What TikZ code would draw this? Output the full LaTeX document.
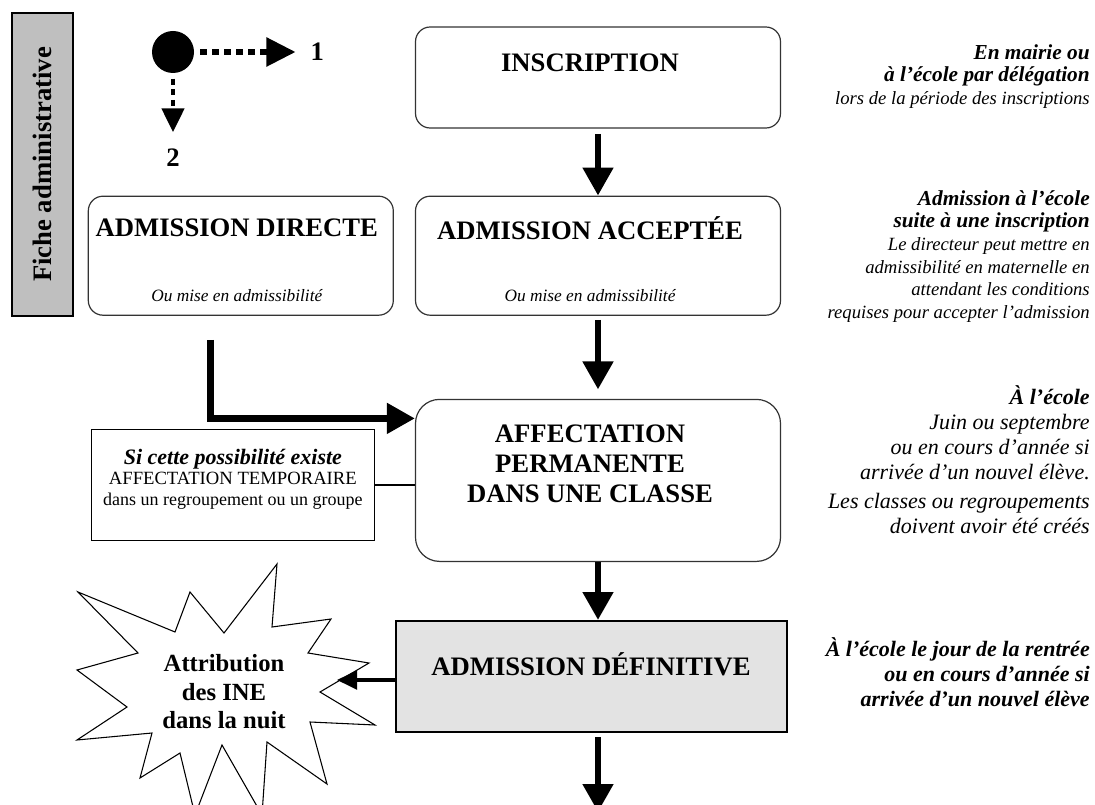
\documentclass[tikz,border=0pt]{standalone}
\usepackage{fontspec}
\setmainfont{Liberation Serif}
\usetikzlibrary{arrows.meta,positioning}

\begin{document}
\begin{tikzpicture}[
  x=0.75pt, y=-0.75pt,
  >={Triangle[length=21pt,width=22pt]},
  box/.style={draw=black!80,line width=0.9pt,rounded corners=11pt,fill=white,minimum width=273.75pt,inner sep=0pt},
  title/.style={font=\bfseries\fontsize{20}{22.5}\selectfont,align=center,inner sep=0pt},
  note/.style={font=\itshape\fontsize{13}{15}\selectfont,inner sep=0pt},
  side/.style={font=\itshape\fontsize{14}{17}\selectfont,align=right,inner sep=0pt,anchor=north east},
  arr/.style={->,line width=5pt},
  legarr/.style={-{Triangle[length=22pt,width=21pt]},line width=4.5pt,dash pattern=on 5pt off 4pt},
  sidearr/.style={-{Triangle[length=15pt,width=14pt]},line width=2.3pt},
  link/.style={line width=1.1pt}
]
\useasboundingbox (0,0) rectangle (1095,805);

% side tab
\node[draw,line width=1.2pt,fill=black!25,rotate=90,minimum width=227.25pt,minimum height=45.75pt,
  font=\bfseries\fontsize{20}{22}\selectfont] (fiche) at (42.5,164.5) {Fiche administrative};

% legend
\node[circle,fill,minimum size=31.5pt,inner sep=0pt] (dot) at (173,52) {};
\node[font=\bfseries\fontsize{20}{22}\selectfont,inner sep=0pt,right=87pt of dot] (one) {1};
\node[font=\bfseries\fontsize{20}{22}\selectfont,inner sep=0pt,below=56.25pt of dot] (two) {2};
\draw[legarr,shorten <=4.5pt,shorten >=11pt] (dot) -- (one);
\draw[legarr,-{Triangle[length=18pt,width=16.5pt]},line width=3.6pt,dash pattern=on 4.5pt off 3.5pt,
  shorten <=4pt,shorten >=12pt] (dot) -- (two);

% main column
\node[box,minimum height=75.75pt,
  label={[title,anchor=base,xshift=-6pt,yshift=-33.75pt]north:INSCRIPTION}] (inscription) at (598,77.5) {};
\node[box,minimum height=89.25pt,below=50.25pt of inscription,
  label={[title,anchor=base,xshift=-6pt,yshift=-33pt]north:ADMISSION ACCEPTÉE},
  label={[note,anchor=base,xshift=-6pt,yshift=11pt]south:Ou mise en admissibilité}] (accepted) {};
\node[box,minimum width=228.75pt,minimum height=89.25pt,left=15.75pt of accepted,
  label={[title,anchor=base,xshift=-3pt,yshift=-30.75pt]north:ADMISSION DIRECTE},
  label={[note,anchor=base,xshift=-3pt,yshift=11pt]south:Ou mise en admissibilité}] (direct) {};
\node[box,rounded corners=18pt,minimum height=121.5pt,below=62.25pt of accepted,
  label={[title,anchor=north,xshift=-6pt,yshift=-19.5pt]north:AFFECTATION\\PERMANENTE\\DANS UNE CLASSE}] (affect) {};
\node[draw,line width=1.5pt,fill=black!11,minimum width=293.25pt,minimum height=83.25pt,inner sep=0pt,
  below=43.5pt of affect,xshift=-5.25pt,
  label={[title,anchor=base,yshift=-41.25pt]north:ADMISSION DÉFINITIVE}] (definitive) {};
\node[draw,line width=0.8pt,minimum width=212.25pt,minimum height=83.25pt,inner sep=0pt,
  left=30pt of affect,yshift=-3.4pt,
  label={[align=center,inner sep=0pt,font=\fontsize{13.5}{15.4}\selectfont,yshift=4.5pt]center:
   {\bfseries\itshape\fontsize{16.5}{15.4}\selectfont Si cette possibilité existe}\\
   {\fontsize{14}{15.4}\selectfont AFFECTATION TEMPORAIRE}\\
   dans un regroupement ou un groupe}] (temp) {};

% burst
\draw[line width=0.8pt,fill=white] (277,564) -- (272,627) -- (331,619) -- (308,653) -- (369,663)
  -- (320,692) -- (375,725) -- (310,722) -- (327,784) -- (267,742) -- (262,815) -- (222,745)
  -- (195,815) -- (180,753) -- (140,778) -- (152,733) -- (77,740) -- (127,707) -- (77,670)
  -- (138,653) -- (78,592) -- (175,632) -- (190,592) -- (224,633) -- cycle;
\node[font=\bfseries\fontsize{18.5}{21.4}\selectfont,align=center,inner sep=0pt] (ine) at (224,692)
  {Attribution\\des INE\\dans la nuit};
\coordinate (burstin) at (337,680);
\coordinate (next) at (598,812);

% connectors
\draw[arr,shorten <=4pt] (inscription) -- (accepted);
\draw[arr,shorten <=3pt,shorten >=7pt] (accepted) -- (affect);
\draw[arr] (affect) -- (affect.south |- definitive.north);
\draw[arr,shorten <=3pt] (next |- definitive.south) -- (next);
\draw[arr] ([xshift=-22.5pt,yshift=-18pt]direct.south) |- ([yshift=46.5pt]affect.west);
\draw[link] (temp) -- (temp -| affect.west);
\draw[sidearr] (definitive.west |- burstin) -- (burstin);

% right notes
\node[side] (mairie) at (1090,44)
  {{\bfseries\fontsize{16}{17}\selectfont En mairie ou}\\
   {\bfseries\fontsize{16}{17}\selectfont à l’école par délégation}\\
   lors de la période des inscriptions};
\node[side] (admnote) at (1090,190)
  {{\bfseries\fontsize{16}{17}\selectfont Admission à l’école}\\
   {\bfseries\fontsize{16}{17}\selectfont suite à une inscription}\\
   Le directeur peut mettre en\\
   admissibilité en maternelle en\\
   attendant les conditions\\
   requises pour accepter l’admission};
\node[side,font=\itshape\fontsize{16.5}{18.75}\selectfont] (ecole) at (1090,385)
  {{\bfseries À l’école}\\
   Juin ou septembre\\
   ou en cours d’année si\\
   arrivée d’un  nouvel élève.\\[3pt]
   Les classes ou regroupements\\
   doivent avoir été créés};
\node[side,font=\bfseries\itshape\fontsize{16.5}{18.75}\selectfont] (rentree) at (1090,637)
  {À l’école le jour de la rentrée\\
   ou en cours d’année si\\
   arrivée d’un nouvel élève};
\end{tikzpicture}
\end{document}
